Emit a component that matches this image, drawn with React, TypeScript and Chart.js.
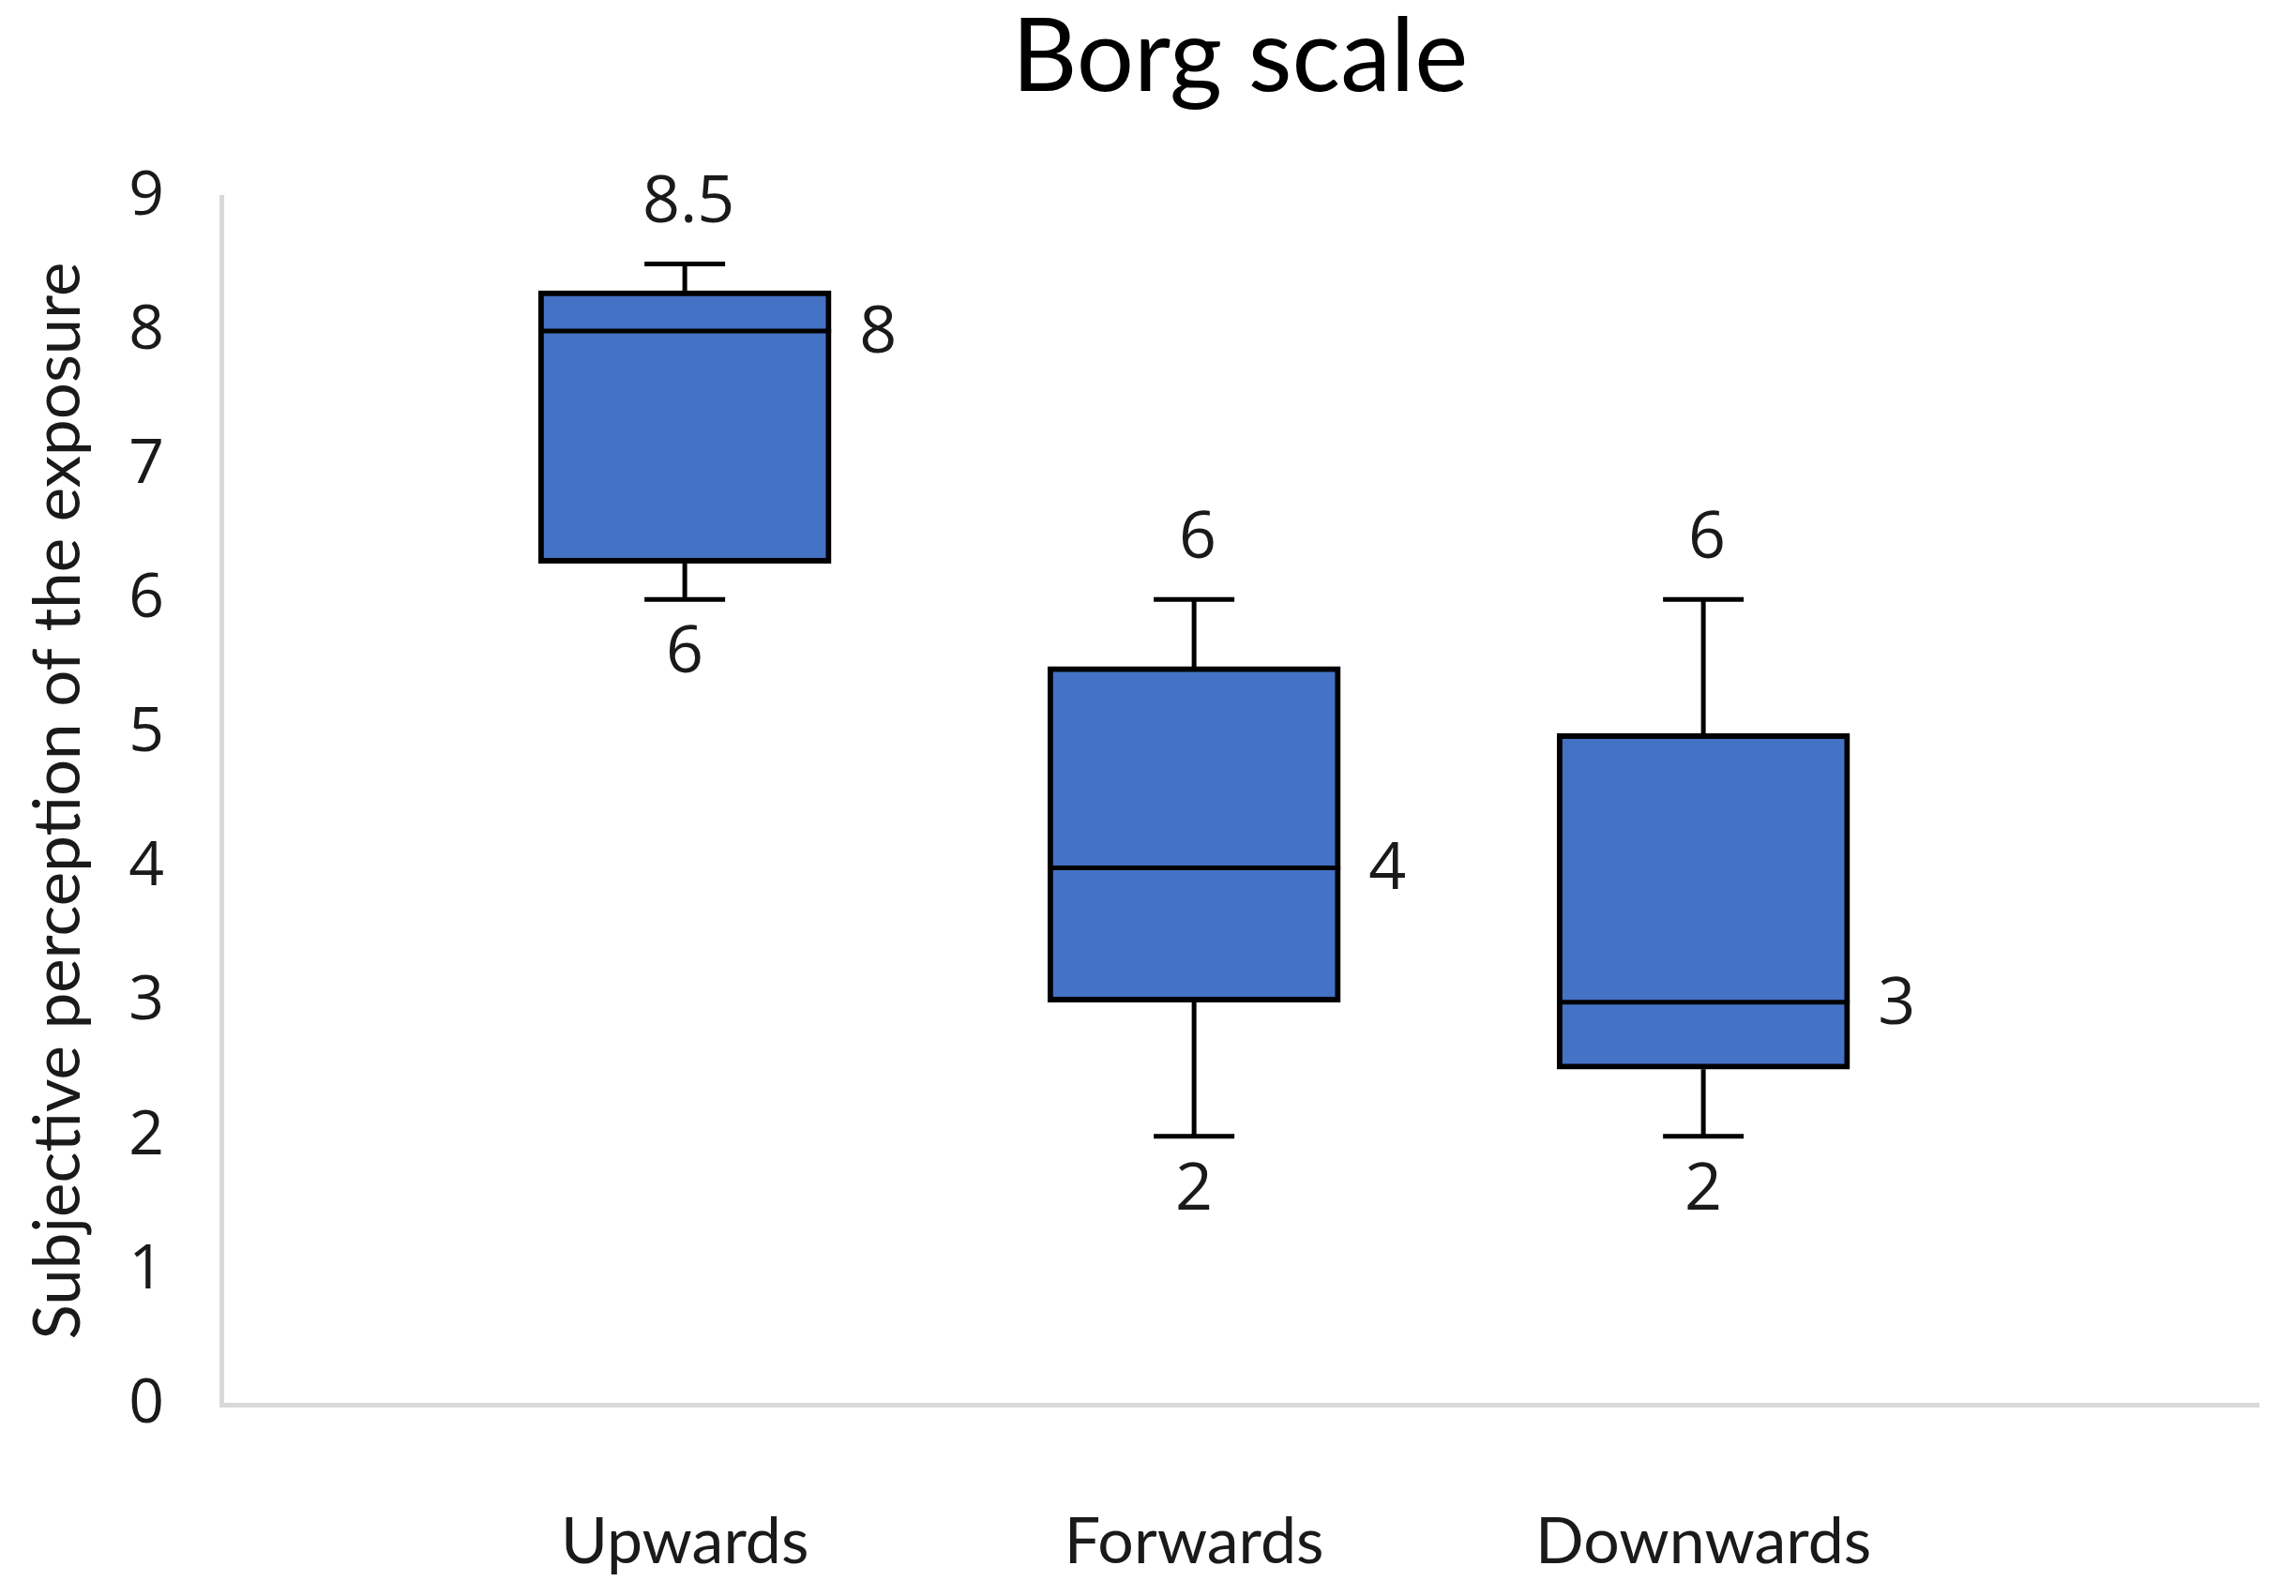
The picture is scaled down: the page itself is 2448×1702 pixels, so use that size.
import React, { useEffect, useRef } from 'react';
import { Chart, registerables } from 'chart.js';

Chart.register(...registerables);

// ---- Data ----
const categories = ['Upwards', 'Forwards', 'Downwards'];
const minValues = [6, 2, 2];
const q1Values = [6.27, 3, 2.5];
const medianValues = [8, 4, 3];
const q3Values = [8.3, 5.5, 5];
const maxValues = [8.5, 6, 6];
const yTickValues = [0, 1, 2, 3, 4, 5, 6, 7, 8, 9];

const TEXT = '#1a1a1a';
const BOX_FILL = '#4472C4';
const AXIS_LINE = '#d9d9d9';
const LABEL_FONT = '70px "Open Sans"';

const boxWhiskerPlugin = {
  id: 'boxWhiskers',
  beforeDatasetsDraw(chart: any) {
    const { ctx, scales } = chart;
    const xs = scales.x;
    const ys = scales.y;
    const capHalf = 43;
    ctx.save();
    ctx.strokeStyle = '#000';
    ctx.lineWidth = 5;
    ctx.lineCap = 'butt';
    categories.forEach((_, i) => {
      const cx = xs.getPixelForValue(i + 1);
      const yMin = ys.getPixelForValue(minValues[i]);
      const yQ1 = ys.getPixelForValue(q1Values[i]);
      const yQ3 = ys.getPixelForValue(q3Values[i]);
      const yMax = ys.getPixelForValue(maxValues[i]);
      ctx.beginPath();
      ctx.moveTo(cx, yMin);
      ctx.lineTo(cx, yQ1);
      ctx.moveTo(cx, yQ3);
      ctx.lineTo(cx, yMax);
      ctx.moveTo(cx - capHalf, yMin);
      ctx.lineTo(cx + capHalf, yMin);
      ctx.moveTo(cx - capHalf, yMax);
      ctx.lineTo(cx + capHalf, yMax);
      ctx.stroke();
    });
    ctx.restore();
  },
  afterDatasetsDraw(chart: any) {
    const { ctx, scales } = chart;
    const ys = scales.y;
    const meta = chart.getDatasetMeta(0);
    ctx.save();
    meta.data.forEach((bar: any, i: number) => {
      const { x: bx, width } = bar.getProps(['x', 'width'], true);
      const left = bx - width / 2;
      const right = bx + width / 2;
      const yMed = ys.getPixelForValue(medianValues[i]);
      const yMin = ys.getPixelForValue(minValues[i]);
      const yMax = ys.getPixelForValue(maxValues[i]);
      // median line
      ctx.strokeStyle = '#000';
      ctx.lineWidth = 5;
      ctx.beginPath();
      ctx.moveTo(left, yMed);
      ctx.lineTo(right, yMed);
      ctx.stroke();
      // labels
      ctx.fillStyle = TEXT;
      ctx.font = LABEL_FONT;
      ctx.textBaseline = 'middle';
      ctx.textAlign = 'center';
      ctx.fillText(String(maxValues[i]), bx + 4, yMax - 64);
      ctx.fillText(String(minValues[i]), bx, yMin + 58);
      ctx.textAlign = 'left';
      ctx.fillText(String(medianValues[i]), right + 30, yMed + 3);
    });
    ctx.restore();
  },
};

export default function App() {
  const canvasRef = useRef<HTMLCanvasElement | null>(null);

  useEffect(() => {
    if (!canvasRef.current) return;
    const chart = new Chart(canvasRef.current, {
      type: 'bar',
      data: {
        datasets: [
          {
            label: 'Borg scale',
            data: categories.map((_, i) => ({ x: i + 1, y: [q1Values[i], q3Values[i]] })) as any,
            backgroundColor: BOX_FILL,
            borderColor: '#000',
            borderWidth: 6,
            borderSkipped: false,
            barThickness: 312,
          },
        ],
      },
      options: {
        responsive: false,
        animation: false,
        devicePixelRatio: 1,
        layout: { padding: { left: 0, right: 32, top: 0, bottom: 0 } },
        plugins: {
          legend: { display: false },
          tooltip: { enabled: false },
          title: {
            display: true,
            text: 'Borg scale',
            fullSize: false,
            color: '#000',
            font: { family: 'Lato', size: 108, weight: 'normal', lineHeight: 1 },
            padding: { top: 0, bottom: 94 },
          },
        },
        scales: {
          x: {
            type: 'linear',
            offset: false,
            min: 0.09,
            max: 4.09,
            grid: { display: false },
            border: { display: true, color: AXIS_LINE, width: 5 },
            afterBuildTicks: (axis: any) => {
              axis.ticks = categories.map((_, i) => ({ value: i + 1 }));
            },
            afterFit: (axis: any) => {
              axis.height = 196;
            },
            ticks: {
              autoSkip: false,
              maxRotation: 0,
              padding: 98,
              color: TEXT,
              font: { family: 'Lato', size: 68 },
              callback: (v: any) => categories[Math.round(Number(v)) - 1] ?? '',
            },
          },
          y: {
            type: 'linear',
            min: 0,
            max: 9,
            grid: { display: false },
            border: { display: true, color: AXIS_LINE, width: 5 },
            afterBuildTicks: (axis: any) => {
              axis.ticks = yTickValues.map((v) => ({ value: v }));
            },
            afterFit: (axis: any) => {
              axis.width = 228;
            },
            ticks: {
              padding: 53,
              color: TEXT,
              font: { family: 'Open Sans', size: 66 },
            },
            title: {
              display: true,
              text: 'Subjective perception of the exposure',
              color: TEXT,
              font: { family: 'Lato', size: 69 },
              padding: { top: 13, bottom: 0 },
            },
          },
        },
      },
      plugins: [boxWhiskerPlugin],
    });
    return () => chart.destroy();
  }, []);

  return (
    <canvas
      ref={canvasRef}
      width={2432}
      height={1686}
      style={{ display: 'block', width: '2432px', height: '1686px' }}
    />
  );
}
